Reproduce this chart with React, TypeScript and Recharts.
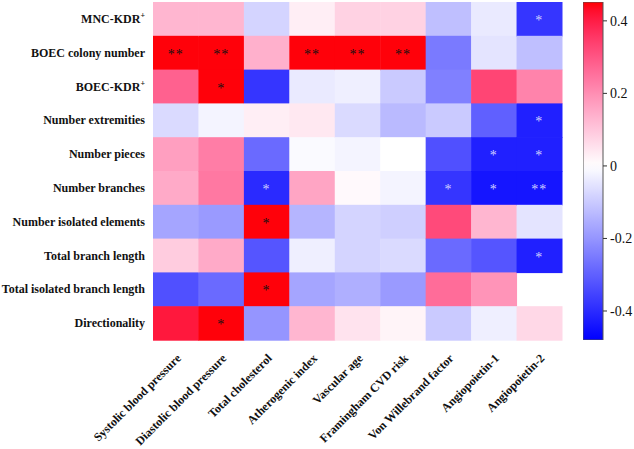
import React from 'react';
import { BarChart, Bar, XAxis, YAxis } from 'recharts';

const rowLabels = [
  'MNC-KDR+',
  'BOEC colony number',
  'BOEC-KDR+',
  'Number extremities',
  'Number pieces',
  'Number branches',
  'Number isolated elements',
  'Total branch length',
  'Total isolated branch length',
  'Directionality',
];

const colLabels = [
  'Systolic blood pressure',
  'Diastolic blood pressure',
  'Total cholesterol',
  'Atherogenic index',
  'Vascular age',
  'Framingham CVD risk',
  'Von Willebrand factor',
  'Angiopoietin-1',
  'Angiopoietin-2',
];

// correlation coefficients, one array per row (columns in colLabels order)
const corr: (number | null)[][] = [
  [0.13, 0.13, -0.08, 0.03, 0.08, 0.08, -0.12, -0.04, -0.38],
  [0.45, 0.45, 0.14, 0.45, 0.45, 0.45, -0.25, -0.05, -0.12],
  [0.28, 0.45, -0.38, -0.04, -0.03, -0.1, -0.24, 0.33, 0.22],
  [-0.07, -0.02, 0.03, 0.04, -0.07, -0.13, -0.1, -0.3, -0.42],
  [0.17, 0.23, -0.28, -0.01, -0.02, 0.0, -0.33, -0.42, -0.42],
  [0.15, 0.24, -0.4, 0.16, 0.01, -0.02, -0.38, -0.44, -0.44],
  [-0.17, -0.19, 0.45, -0.14, -0.08, -0.09, 0.32, 0.13, -0.05],
  [0.09, 0.15, -0.32, -0.03, -0.08, -0.07, -0.28, -0.32, -0.42],
  [-0.33, -0.28, 0.45, -0.17, -0.15, -0.19, 0.26, 0.19, null],
  [0.41, 0.45, -0.2, 0.13, 0.05, 0.02, -0.1, -0.03, 0.07],
];

const sig: string[][] = [
  ['', '', '', '', '', '', '', '', '*'],
  ['**', '**', '', '**', '**', '**', '', '', ''],
  ['', '*', '', '', '', '', '', '', ''],
  ['', '', '', '', '', '', '', '', '*'],
  ['', '', '', '', '', '', '', '*', '*'],
  ['', '', '*', '', '', '', '*', '*', '**'],
  ['', '', '*', '', '', '', '', '', ''],
  ['', '', '', '', '', '', '', '', '*'],
  ['', '', '*', '', '', '', '', '', ''],
  ['', '*', '', '', '', '', '', '', ''],
];

const colorTicks = [-0.4, -0.2, 0, 0.2, 0.4];
const cMin = -0.48;
const cMax = 0.452;

const FONT = '"Liberation Serif", "Times New Roman", serif';

function colorFor(v: number) {
  if (v >= 0) {
    const t = Math.min(v / cMax, 1);
    const g = Math.round(255 * (1 - t));
    const b = Math.round(255 * Math.pow(1 - t, 0.6));
    return `rgb(255,${g},${b})`;
  }
  const t = Math.min(-v / -cMin, 1);
  const rg = Math.round(255 * (1 - t));
  return `rgb(${rg},${rg},255)`;
}

const tableData = rowLabels.map((name) => {
  const row: any = { name };
  colLabels.forEach((_, c) => {
    row['c' + c] = 1;
  });
  return row;
});

const barData = [{ name: 'bar', range: [cMin, cMax] }];

const makeCell = (col: number) => (props: any) => {
  const { x, y, width, height, index } = props;
  const v = corr[index][col];
  const s = sig[index][col];
  return (
    <g>
      {v !== null && (
        <rect x={x} y={y} width={width + 0.5} height={height + 0.5} fill={colorFor(v)} />
      )}
      {s && v !== null && (
        <text
          x={x + width / 2}
          y={y + height / 2 + 6}
          textAnchor="middle"
          style={{ fontFamily: FONT, fontSize: 14, letterSpacing: 1 }}
          fill={v > 0 ? '#111' : '#d0d0ff'}
        >
          {s}
        </text>
      )}
    </g>
  );
};

const RowTick = (props: any) => {
  const { y, payload } = props;
  const label: string = payload.value;
  const sup = label.endsWith('+');
  const base = sup ? label.slice(0, -1) : label;
  return (
    <text
      x={145}
      y={y + 4}
      textAnchor="end"
      style={{ fontFamily: FONT, fontWeight: 'bold', fontSize: 12 }}
      fill="#111"
    >
      {base}
      {sup && (
        <tspan dy={-5} style={{ fontSize: 8 }}>
          +
        </tspan>
      )}
    </text>
  );
};

const ColTick = (props: any) => {
  const { x, y, payload } = props;
  const label = colLabels[Math.floor(payload.value)];
  return (
    <g transform={`translate(${x + 3},${y + 8}) rotate(-45)`}>
      <text
        x={0}
        y={0}
        dy="0.35em"
        textAnchor="end"
        style={{ fontFamily: FONT, fontWeight: 'bold', fontSize: 12 }}
        fill="#111"
      >
        {label}
      </text>
    </g>
  );
};

const gradStops = Array.from({ length: 41 }, (_, i) => {
  const v = cMax - (i / 40) * (cMax - cMin);
  return { offset: `${(i / 40) * 100}%`, color: colorFor(v) };
});

export default function App() {
  return (
    <div
      style={{
        position: 'absolute',
        left: 0,
        top: 0,
        width: 634,
        height: 449,
        background: '#fff',
      }}
    >
      <div style={{ position: 'absolute', left: 0, top: 0 }}>
        <BarChart
          width={575}
          height={449}
          data={tableData}
          layout="vertical"
          margin={{ top: 2, right: 13, bottom: 0, left: 0 }}
          barCategoryGap={0}
          barGap={0}
        >
          <XAxis
            type="number"
            domain={[0, 9]}
            ticks={colLabels.map((_, i) => i + 0.5)}
            interval={0}
            axisLine={false}
            tickLine={false}
            height={109}
            tick={<ColTick />}
          />
          <YAxis
            type="category"
            dataKey="name"
            width={153}
            axisLine={false}
            tickLine={false}
            interval={0}
            tick={<RowTick />}
          />
          {colLabels.map((_, c) => (
            <Bar
              key={c}
              dataKey={'c' + c}
              stackId="a"
              isAnimationActive={false}
              shape={makeCell(c)}
            />
          ))}
        </BarChart>
      </div>
      <div style={{ position: 'absolute', left: 583, top: 0 }}>
        <BarChart
          width={51}
          height={449}
          data={barData}
          margin={{ top: 2, right: 0, bottom: 109, left: 0 }}
          barCategoryGap={0}
        >
          <defs>
            <linearGradient id="cbar" x1="0" y1="0" x2="0" y2="1">
              {gradStops.map((s, i) => (
                <stop key={i} offset={s.offset} stopColor={s.color} />
              ))}
            </linearGradient>
          </defs>
          <XAxis dataKey="name" hide />
          <YAxis
            orientation="right"
            type="number"
            domain={[cMin, cMax]}
            ticks={colorTicks}
            allowDataOverflow
            width={31}
            axisLine={false}
            tickSize={4}
            tickMargin={3}
            tickLine={{ stroke: '#333' }}
            tick={{ fill: '#111', fontSize: 14, style: { fontFamily: FONT } }}
            tickFormatter={(v: number) => String(v)}
          />
          <Bar
            dataKey="range"
            fill="url(#cbar)"
            stroke="#555"
            strokeWidth={1}
            isAnimationActive={false}
          />
        </BarChart>
      </div>
    </div>
  );
}
